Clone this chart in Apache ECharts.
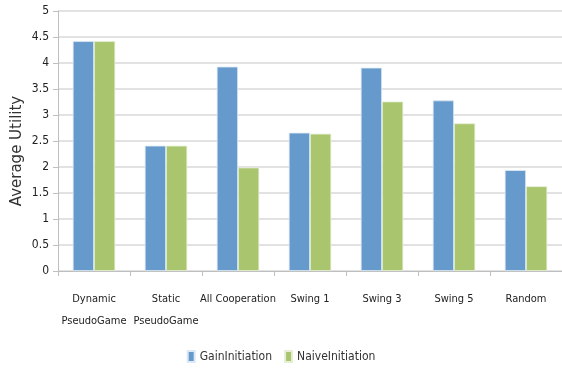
<!DOCTYPE html>
<html>
<head>
<meta charset="utf-8">
<script src="https://cdn.jsdelivr.net/npm/echarts@6/dist/echarts.min.js"></script>
<style>
  html, body { margin: 0; padding: 0; background: #fff; }
  #chart { width: 562px; height: 372px; }
</style>
</head>
<body>
<div id="chart"></div>
<script>
// data
var categories = ["Dynamic\nPseudoGame", "Static\nPseudoGame", "All Cooperation", "Swing 1", "Swing 3", "Swing 5", "Random"];
var gainInitiation = [4.42, 2.41, 3.93, 2.66, 3.91, 3.28, 1.94];
var naiveInitiation = [4.42, 2.41, 1.99, 2.64, 3.26, 2.84, 1.63];
var seriesNames = ["GainInitiation", "NaiveInitiation"];

var font = "'DejaVu Sans Condensed', 'Liberation Sans Narrow', 'Liberation Sans', sans-serif";

var chart = echarts.init(document.getElementById("chart"));
chart.setOption({
  animation: false,
  color: ["#6699cc", "#a9c66e"],
  grid: {
    left: 58,
    right: 0,
    top: 11,
    bottom: 101
  },
  graphic: [{
    type: "text",
    x: 10,
    y: 151,
    rotation: Math.PI / 2,
    style: {
      text: "Average Utility",
      fontFamily: "'DejaVu Sans', sans-serif",
      fontSize: 15,
      fill: "#333",
      align: "center",
      verticalAlign: "top"
    }
  }],
  legend: {
    bottom: 4,
    left: 'center',
    itemWidth: 7,
    itemHeight: 11,
    itemGap: 12,
    icon: 'rect',
    textStyle: { fontFamily: font, fontSize: 12, color: "#333" },
    data: seriesNames
  },
  xAxis: {
    type: "category",
    data: categories,
    axisLine: { lineStyle: { color: "#bfbfbf" } },
    axisTick: { show: true, length: 5, lineStyle: { color: "#bfbfbf" } },
    axisLabel: {
      margin: 17,
      fontFamily: font,
      fontSize: 11,
      lineHeight: 22,
      color: "#222",
      interval: 0
    }
  },
  yAxis: {
    type: "value",
    min: 0,
    max: 5,
    interval: 0.5,
    axisLine: { show: true, lineStyle: { color: "#bfbfbf" } },
    axisTick: { show: true, length: 5, lineStyle: { color: "#bfbfbf" } },
    axisLabel: { fontFamily: font, fontSize: 12, color: "#222", margin: 9 },
    splitLine: { lineStyle: { color: "#d9d9d9", width: 1.5 } }
  },
  series: [
    {
      name: seriesNames[0],
      type: "bar",
      data: gainInitiation,
      barGap: "0%",
      barCategoryGap: "41%",
      itemStyle: { borderColor: "#dce8f4", borderWidth: 0.8 }
    },
    {
      name: seriesNames[1],
      type: "bar",
      data: naiveInitiation,
      itemStyle: { borderColor: "#e6efd6", borderWidth: 0.8 }
    }
  ]
});
</script>
</body>
</html>
